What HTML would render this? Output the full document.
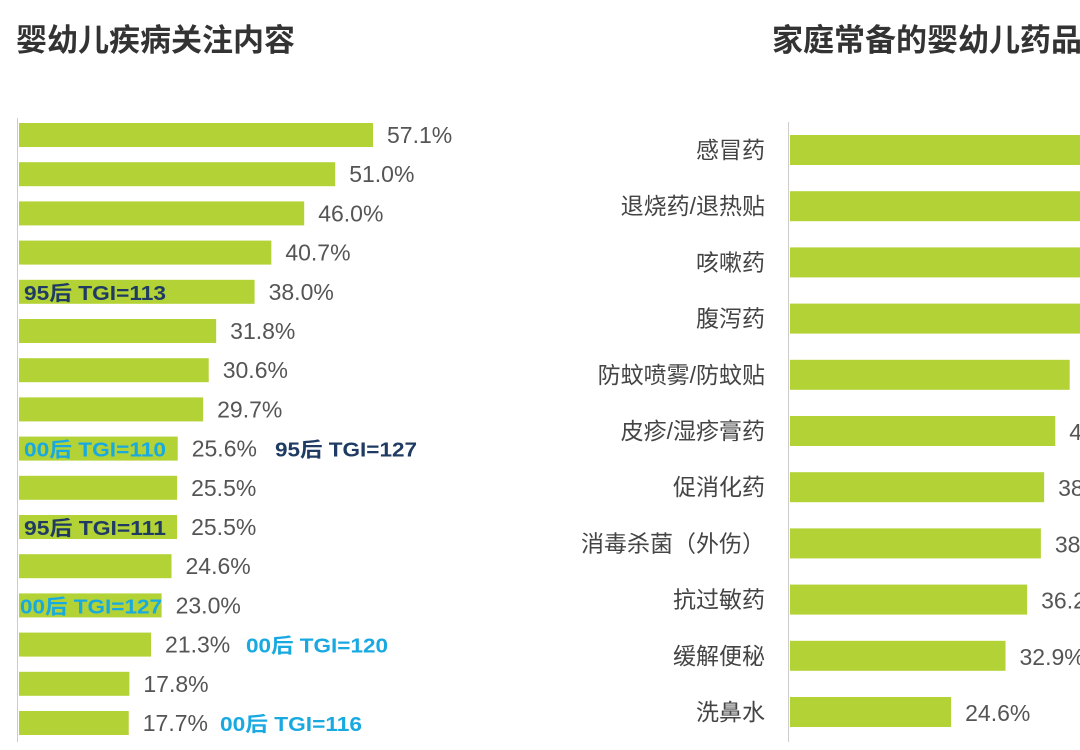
<!DOCTYPE html>
<html><head><meta charset="utf-8"><style>
html,body{margin:0;padding:0;background:#fff;width:1080px;height:750px;overflow:hidden}
svg{display:block;font-family:"Liberation Sans","Noto Sans CJK SC",sans-serif}
</style></head><body>
<svg id="c" width="1080" height="750">
<text x="16" y="51" font-size="31" font-weight="bold" fill="#333">婴幼儿疾病关注内容</text>
<text x="772" y="51" font-size="31" font-weight="bold" fill="#333">家庭常备的婴幼儿药品</text>
<line x1="17.5" y1="118" x2="17.5" y2="742" stroke="#ccc"/>
<line x1="788.5" y1="122" x2="788.5" y2="742" stroke="#ccc"/>
</svg>
<script>
const leftValues=[57.1,51.0,46.0,40.7,38.0,31.8,30.6,29.7,25.6,25.5,25.5,24.6,23.0,21.3,17.8,17.7];
const rightCategories=["感冒药","退烧药/退热贴","咳嗽药","腹泻药","防蚊喷雾/防蚊贴","皮疹/湿疹膏药","促消化药","消毒杀菌（外伤）","抗过敏药","缓解便秘","洗鼻水"];
const rightValues=[70.0,60.0,55.0,50.0,42.7,40.5,38.8,38.3,36.2,32.9,24.6];
const tgiNotes=[{row:4,x:24,text:"95后 TGI=113",color:"#1f3b63"},{row:8,x:24,text:"00后 TGI=110",color:"#19a9e1"},{row:8,x:275,text:"95后 TGI=127",color:"#1f3b63"},{row:10,x:24,text:"95后 TGI=111",color:"#1f3b63"},{row:12,x:20,text:"00后 TGI=127",color:"#19a9e1"},{row:13,x:246,text:"00后 TGI=120",color:"#19a9e1"},{row:15,x:220,text:"00后 TGI=116",color:"#19a9e1"}];
const svg=document.getElementById('c');const NS='http://www.w3.org/2000/svg';
function mk(t,a){const e=document.createElementNS(NS,t);for(const k in a)e.setAttribute(k,a[k]);svg.appendChild(e);return e;}
const lx=v=>19+v*6.2, ly=i=>135+i*39.2;
const rx=v=>790+v*6.55, ry=i=>150+i*56.2;
leftValues.forEach((v,i)=>{
 const r=mk('rect',{x:19,y:ly(i)-12,width:lx(v)-19,height:24,fill:'#b2d235'});
 
 
 const t=mk('text',{x:lx(v)+14,y:ly(i)+8,'font-size':23,fill:'#555'});t.textContent=v.toFixed(1)+'%';
 
 
});
tgiNotes.forEach(n=>{
 const t=mk('text',{x:n.x,y:ly(n.row)+8,'font-size':20,'font-weight':'bold',fill:n.color,textLength:142,lengthAdjust:'spacingAndGlyphs'});t.textContent=n.text;
 
 
});
rightValues.forEach((v,i)=>{
 const r=mk('rect',{x:790,y:ry(i)-15,width:rx(v)-790,height:30,fill:'#b2d235'});
 
 
 const t=mk('text',{x:rx(v)+14,y:ry(i)+9,'font-size':23,fill:'#555'});t.textContent=v.toFixed(1)+'%';
 
 
 const c=mk('text',{x:765,y:ry(i)+8,'font-size':23,fill:'#444','text-anchor':'end'});c.textContent=rightCategories[i];
 
 
});
</script>
</body></html>
